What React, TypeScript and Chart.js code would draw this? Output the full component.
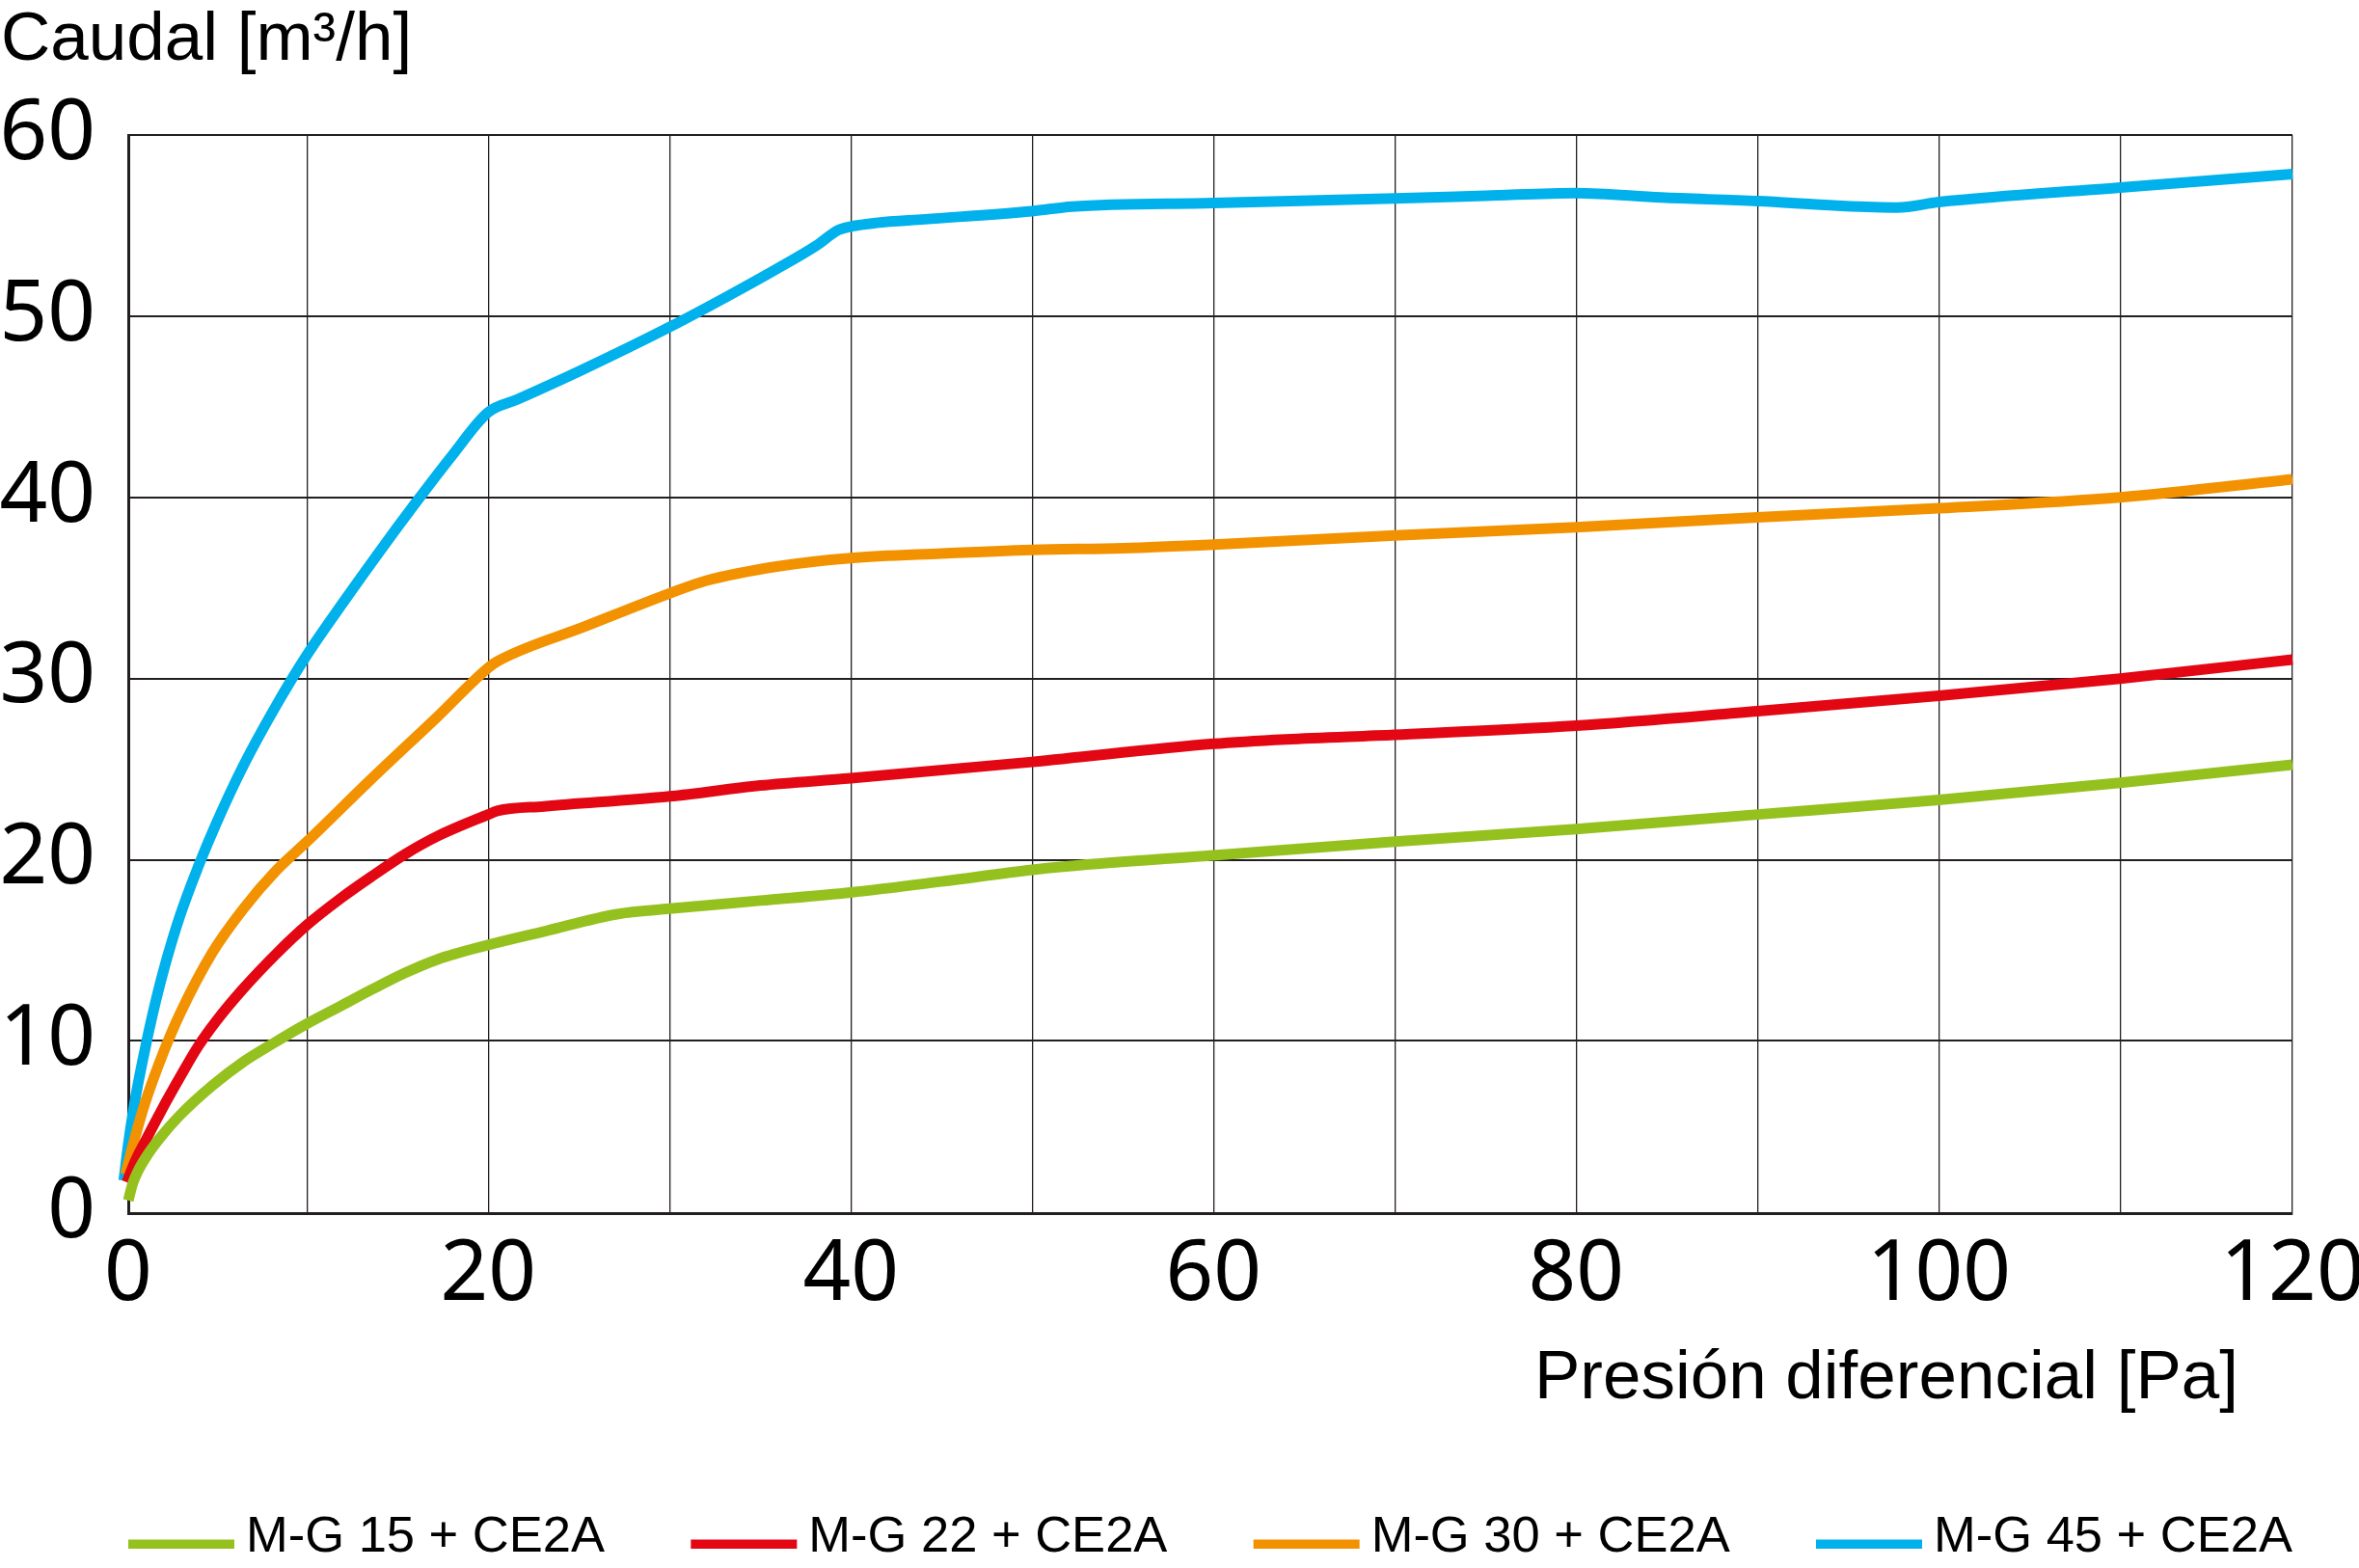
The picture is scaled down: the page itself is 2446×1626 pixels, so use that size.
import { useEffect, useRef } from "react";
import { Chart, registerables } from "chart.js";

Chart.register(...registerables);

const CANVAS_W = 2446;
const CANVAS_H = 1626;

// Flow curves: differential pressure [Pa] vs. flow [m³/h]
const mg15Pressure = [0.15, 0.4, 0.7, 1.2, 1.9, 3.0, 4.8, 6.5, 8.2, 10, 11.9, 13.6, 15.4, 17.2, 20, 23.1, 27.1, 30, 35, 40, 45, 50, 52, 60, 70, 80, 90, 100, 110, 119.5];
const mg15Flow = [1.2, 2.15, 2.85, 3.7, 4.65, 5.9, 7.55, 8.85, 9.9, 10.95, 11.95, 12.85, 13.75, 14.5, 15.3, 16.05, 17.0, 17.3, 17.75, 18.2, 18.8, 19.45, 19.65, 20.25, 21.0, 21.7, 22.5, 23.3, 24.25, 25.25];

const mg22Pressure = [0.07, 0.5, 1.05, 1.94, 3.0, 4.0, 5.0, 6.5, 8.3, 10, 11.9, 13.6, 15.4, 17.2, 20, 20.5, 23.1, 30, 35, 40, 50, 60, 64, 70, 80, 90, 100, 110, 119.5];
const mg22Flow = [2.2, 3.3, 4.4, 6.1, 8.0, 9.7, 11.1, 12.9, 14.8, 16.4, 17.9, 19.1, 20.3, 21.3, 22.5, 22.7, 22.95, 23.5, 24.1, 24.5, 25.4, 26.4, 26.65, 26.9, 27.4, 28.2, 29.05, 30.0, 31.05];

const mg30Pressure = [0, 0.5, 1.05, 2.1, 3.0, 4.8, 6.5, 8.3, 10, 13.6, 17.2, 20, 20.5, 25.4, 30, 32, 36, 40, 45, 50, 55, 60, 70, 80, 90, 100, 110, 119.5];
const mg30Flow = [2.65, 4.6, 6.5, 9.4, 11.5, 14.9, 17.3, 19.4, 21.0, 24.5, 27.9, 30.6, 30.95, 32.9, 34.7, 35.4, 36.2, 36.65, 36.9, 37.1, 37.2, 37.4, 37.9, 38.35, 38.9, 39.4, 40.0, 41.0];

const mg45Pressure = [-0.1, 0.15, 0.5, 1.0, 1.5, 2.1, 3.0, 4.0, 5.0, 6.5, 8.3, 10, 12, 14, 16, 18, 20, 21.6, 25.1, 30, 33.2, 35.9, 38.1, 39.3, 40, 41.4, 44.1, 50, 52.2, 60, 70, 75, 80, 84.7, 90, 94.4, 97.7, 100, 110, 119.5];
const mg45Flow = [2.3, 4.3, 6.6, 9.2, 11.5, 13.9, 16.9, 19.6, 22.0, 25.2, 28.5, 31.3, 34.2, 37.0, 39.7, 42.3, 44.7, 45.4, 47.0, 49.4, 51.1, 52.6, 53.9, 54.75, 54.95, 55.15, 55.35, 55.8, 56.05, 56.25, 56.5, 56.65, 56.8, 56.55, 56.35, 56.1, 56.0, 56.3, 57.1, 57.85];

const seriesNames = ["M-G 15 + CE2A", "M-G 22 + CE2A", "M-G 30 + CE2A", "M-G 45 + CE2A"];
const seriesColors = ["#95C11F", "#E30613", "#F39200", "#00B1EB"];

const xAxisTitle = "Presión diferencial [Pa]";
const yAxisTitle = "Caudal [m³/h]";

const xGridValues = [0, 10, 20, 30, 40, 50, 60, 70, 80, 90, 100, 110, 120];
const xTickLabels = ["0", "20", "40", "60", "80", "100", "120"];
const yGridValues = [0, 10, 20, 30, 40, 50, 60];
const yTickLabels = ["0", "10", "20", "30", "40", "50", "60"];

// The frame sits slightly inside the nominal 0/120 and 0 positions
const X_MIN = 0.15;
const X_MAX = 119.5;
const Y_MIN = 0.5;
const Y_MAX = 60;

const INK = "#231F20";
const TICK_FONT = { family: "'Noto Sans', sans-serif", size: 87 };
const CAPTION_FONT = "71px 'Liberation Sans', Arial, sans-serif";
const LEGEND_FONT = "52.5px 'Liberation Sans', Arial, sans-serif";

const toPoints = (xs: number[], ys: number[]) => xs.map((x, i) => ({ x, y: ys[i] }));

const seriesPoints = [
  toPoints(mg15Pressure, mg15Flow),
  toPoints(mg22Pressure, mg22Flow),
  toPoints(mg30Pressure, mg30Flow),
  toPoints(mg45Pressure, mg45Flow),
];

// Axis captions and the legend row under the plot
const captionsPlugin = {
  id: "captions",
  afterDraw(chart: any) {
    const { ctx, chartArea } = chart;
    ctx.save();
    ctx.fillStyle = "#000";
    ctx.textBaseline = "alphabetic";

    ctx.font = CAPTION_FONT;
    ctx.textAlign = "left";
    ctx.fillText(yAxisTitle, 1, chartArea.top - 78);
    ctx.textAlign = "right";
    ctx.fillText(xAxisTitle, chartArea.right - 56, chartArea.bottom + 192);

    ctx.font = LEGEND_FONT;
    ctx.textAlign = "left";
    const datasets = chart.data.datasets;
    const swatchW = 110;
    const textOffset = 122;
    const textW = Math.max(...datasets.map((d: any) => ctx.measureText(d.label).width));
    const itemW = textOffset + textW;
    const step = (chartArea.right - chartArea.left - itemW) / (datasets.length - 1);
    datasets.forEach((d: any, i: number) => {
      const x0 = chartArea.left + i * step;
      ctx.fillStyle = d.borderColor;
      ctx.fillRect(x0, chartArea.bottom + 338.5, swatchW, 9.5);
      ctx.fillStyle = "#000";
      ctx.fillText(d.label, x0 + textOffset, chartArea.bottom + 351);
    });
    ctx.restore();
  },
};

export default function App() {
  const canvasRef = useRef<HTMLCanvasElement | null>(null);

  useEffect(() => {
    const canvas = canvasRef.current;
    if (!canvas) return;

    const chart = new Chart(canvas, {
      type: "line",
      data: {
        datasets: seriesNames.map((name, i) => ({
          label: name,
          data: seriesPoints[i],
          borderColor: seriesColors[i],
          backgroundColor: seriesColors[i],
          borderWidth: 11,
          borderJoinStyle: "round",
          pointRadius: 0,
          pointHoverRadius: 0,
          cubicInterpolationMode: "monotone",
          fill: false,
          clip: false,
        })),
      },
      options: {
        responsive: false,
        devicePixelRatio: 1,
        animation: false,
        events: [],
        layout: { padding: { left: 0, right: 69, top: 140, bottom: 0 } },
        plugins: {
          legend: { display: false },
          title: { display: false },
          tooltip: { enabled: false },
        },
        scales: {
          x: {
            type: "linear",
            min: X_MIN,
            max: X_MAX,
            afterBuildTicks: (scale: any) => {
              scale.ticks = xGridValues.map((v) => ({ value: Math.min(Math.max(v, X_MIN), X_MAX) }));
            },
            afterFit: (scale: any) => {
              scale.height = 368;
              scale.paddingLeft = 0;
              scale.paddingRight = 0;
            },
            grid: { color: INK, lineWidth: 1.3, drawTicks: false },
            border: { display: true, color: INK, width: 3 },
            ticks: {
              autoSkip: false,
              maxRotation: 0,
              padding: 13,
              color: "#000",
              font: TICK_FONT,
              callback: (_v: any, index: number) => (index % 2 === 0 ? xTickLabels[index / 2] : ""),
            },
          },
          y: {
            type: "linear",
            min: Y_MIN,
            max: Y_MAX,
            afterBuildTicks: (scale: any) => {
              scale.ticks = yGridValues.map((v) => ({ value: Math.min(Math.max(v, Y_MIN), Y_MAX) }));
            },
            afterFit: (scale: any) => {
              scale.width = 133;
              scale.paddingTop = 0;
              scale.paddingBottom = 0;
            },
            grid: { color: INK, lineWidth: 2, drawTicks: false },
            border: { display: true, color: INK, width: 3 },
            ticks: {
              autoSkip: false,
              padding: 34,
              color: "#000",
              font: TICK_FONT,
              callback: (_v: any, index: number) => yTickLabels[index],
            },
          },
        },
      },
      plugins: [captionsPlugin],
    } as any);

    return () => chart.destroy();
  }, []);

  return (
    <div style={{ position: "absolute", left: 0, top: 0, width: CANVAS_W, height: CANVAS_H, background: "#fff" }}>
      <canvas ref={canvasRef} width={CANVAS_W} height={CANVAS_H} style={{ display: "block" }} />
    </div>
  );
}
